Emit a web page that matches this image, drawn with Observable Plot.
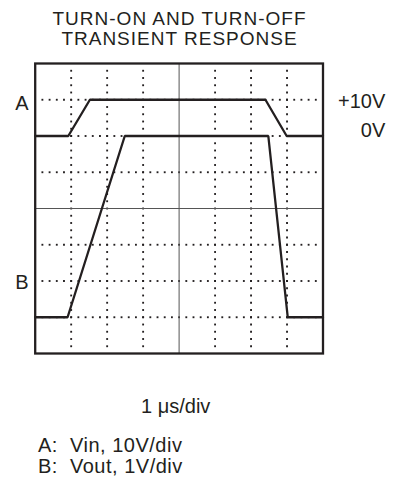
<!DOCTYPE html>
<html><head><meta charset="utf-8">
<script src="https://cdn.jsdelivr.net/npm/d3@7"></script>
<script src="https://cdn.jsdelivr.net/npm/@observablehq/plot@0.6"></script>
<style>
body{margin:0;background:#fff;}
#wrap{position:relative;width:401px;height:482px;font-family:"Liberation Sans",Arial,Helvetica,sans-serif;color:#231f20;}
.t{position:absolute;white-space:pre;}
#chart{position:absolute;left:0;top:52px;}
</style></head><body>
<div id="wrap">
<div class="t" style="left:0;width:359px;top:9.1px;text-align:center;font-size:19px;line-height:20px;letter-spacing:1px;">TURN-ON AND TURN-OFF<br>TRANSIENT RESPONSE</div>
<div id="chart"></div>
<div class="t" style="left:141px;top:396px;font-size:20px;line-height:20px;">1 μs/div</div>
<div class="t" style="left:38px;top:435px;font-size:20px;line-height:20px;letter-spacing:0.5px;">A:  Vin, 10V/div</div>
<div class="t" style="left:38px;top:456px;font-size:20px;line-height:20px;letter-spacing:0.5px;">B:  Vout, 1V/div</div>
</div>
<script>
// Trace A (Vin) in graticule divisions: time (div) vs vertical position (div)
const vinX = [0, 0.92, 1.52, 6.40, 6.99, 8];
const vinY = [2, 2, 3, 3, 2, 2];
// Trace B (Vout)
const voutX = [0, 0.90, 2.49, 6.48, 7.02, 8];
const voutY = [-3, -3, 2, 2, -3, -3];
// Channel labels (left) and level labels (right)
const channelNames = ["A", "B"];
const channelY = [2.9, -2.05];
const levelNames = ["+10V", "0V"];
const levelY = [2.94, 2.14];
// Graticule
const majorX = [1, 2, 3, 5, 6, 7];
const majorY = [-3, -2, -1, 1, 2, 3];
const minorSteps = d3.range(1, 40).map(i => i / 5);

const gridDots = [];
for (const x of majorX) for (const s of minorSteps) gridDots.push({x, y: s - 4});
for (const y of majorY) for (const s of minorSteps) gridDots.push({x: s, y});

const traceA = vinX.map((x, i) => ({x, y: vinY[i]}));
const traceB = voutX.map((x, i) => ({x, y: voutY[i]}));
const chLabels = channelNames.map((t, i) => ({t, y: channelY[i]}));
const lvLabels = levelNames.map((t, i) => ({t, y: levelY[i]}));

const ink = "#231f20";
const chart = Plot.plot({
  width: 401,
  height: 311,
  marginLeft: 34.7,
  marginRight: 78.5,
  marginTop: 11,
  marginBottom: 10,
  x: {domain: [0, 8], axis: null},
  y: {domain: [-4, 4], axis: null},
  style: {fontFamily: '"Liberation Sans", Arial, sans-serif', color: ink, background: "white", overflow: "visible"},
  marks: [
    Plot.dot(gridDots, {x: "x", y: "y", symbol: "square", r: 1.05, fill: ink, stroke: null}),
    Plot.ruleX([4], {stroke: "#555", strokeWidth: 1}),
    Plot.ruleY([0], {stroke: "#555", strokeWidth: 1}),
    Plot.line(traceA, {x: "x", y: "y", stroke: ink, strokeWidth: 2.3, strokeLinejoin: "miter"}),
    Plot.line(traceB, {x: "x", y: "y", stroke: ink, strokeWidth: 2.3, strokeLinejoin: "miter"}),
    Plot.frame({stroke: ink, strokeWidth: 2.3}),
    Plot.text(chLabels, {x: -0.37, y: "y", text: "t", fontSize: 20, fill: ink, textAnchor: "middle", lineAnchor: "middle"}),
    Plot.text(lvLabels, {x: 9.73, y: "y", text: "t", fontSize: 20, fill: ink, textAnchor: "end", lineAnchor: "middle"})
  ]
});
document.getElementById("chart").appendChild(chart);
</script>
</body></html>
